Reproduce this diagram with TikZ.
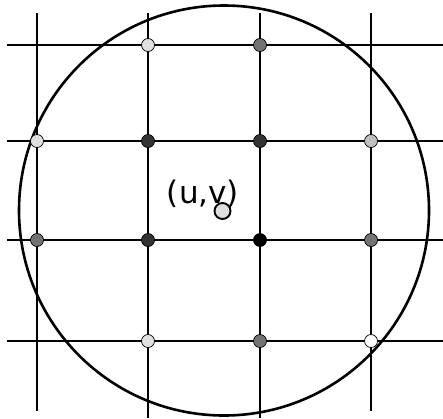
\documentclass[tikz,border=0pt]{standalone}
\usepackage{fontspec}
\setsansfont{DejaVu Sans}
\begin{document}
\begin{tikzpicture}[x=1pt, y=-1pt,
  gridline/.style={line width=2.6pt},
  sample/.style={circle, draw, line width=0.7pt, fill=#1, minimum size=13pt, inner sep=0pt},
  sample/.default={black!55},
  query/.style={circle, draw, line width=1.9pt, fill=black!13, minimum size=16pt, inner sep=0pt}
]
  \useasboundingbox (0,0) rectangle (443,418);

  % Grid lines
  \draw[gridline] (37,13) -- (37,411);
  \draw[gridline] (148,13) -- (148,418);
  \draw[gridline] (260,13) -- (260,418);
  \draw[gridline] (371,13) -- (371,411);
  \draw[gridline] (7,45) -- (443,45);
  \draw[gridline] (7,141) -- (443,141);
  \draw[gridline] (7,240) -- (443,240);
  \draw[gridline] (7,341) -- (443,341);

  % Filter footprint
  \draw[gridline] (224,210.5) circle [radius=205];

  % Samples, first row
  \node[sample=black!12] (s12) at (148,45) {};
  \node[sample] (s13) at (260,45) {};

  % Second row
  \node[sample=black!12] (s21) at (37,141) {};
  \node[sample=black!80] (s22) at (148,141) {};
  \node[sample=black!80] (s23) at (260,141) {};
  \node[sample=black!25] (s24) at (371,141) {};

  % Third row
  \node[sample] (s31) at (37,240) {};
  \node[sample=black!80] (s32) at (148,240) {};
  \node[sample=black] (s33) at (260,240) {};
  \node[sample] (s34) at (371,240) {};

  % Fourth row
  \node[sample=black!12] (s42) at (148,341) {};
  \node[sample] (s43) at (260,341) {};
  \node[sample=black!2] (s44) at (371,341) {};

  % Query point
  \node[font=\sffamily\fontsize{31}{37}\selectfont] (uv) at (203,194) {(u,v)};
  \node[query] (q) at (222.5,211) {};
\end{tikzpicture}
\end{document}
